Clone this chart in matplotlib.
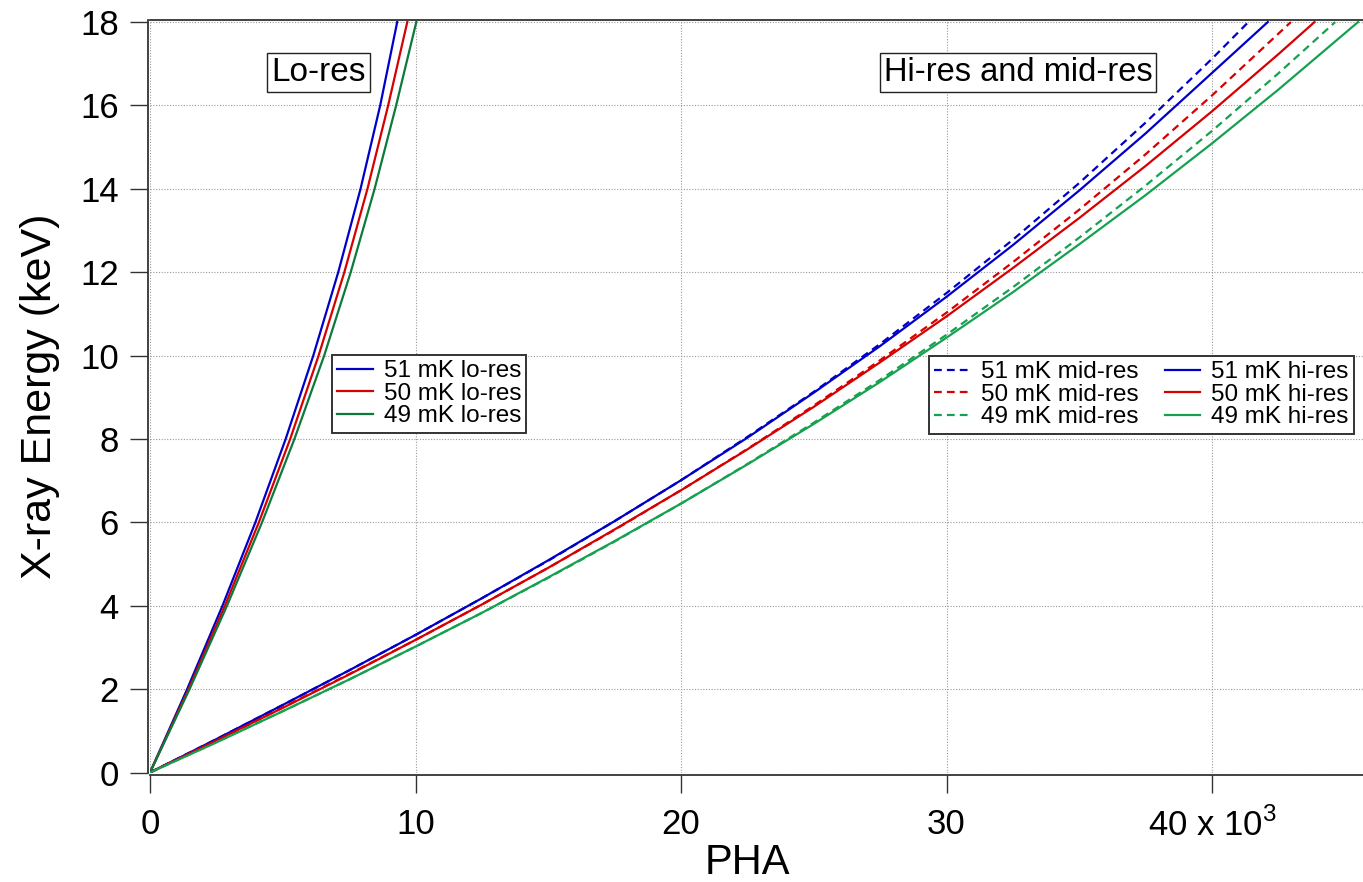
import matplotlib
matplotlib.use("Agg")
import matplotlib.pyplot as plt

plt.rcParams['font.family'] = ['Liberation Sans', 'DejaVu Sans']
plt.rcParams['mathtext.fontset'] = 'custom'
plt.rcParams['mathtext.rm'] = 'Liberation Sans'

# lo-res calibration (PHA in units of 1e3, energy in keV)
lo_energy = [0, 2, 4, 6, 8, 10, 12, 14, 16, 18]
lo_pha_51 = [0, 1.40, 2.73, 3.97, 5.11, 6.15, 7.09, 7.93, 8.67, 9.31]
lo_pha_50 = [0, 1.45, 2.82, 4.10, 5.28, 6.35, 7.32, 8.19, 8.97, 9.69]
lo_pha_49 = [0, 1.49, 2.90, 4.22, 5.44, 6.56, 7.56, 8.46, 9.27, 10.03]

# hi-res and mid-res
pha = [0, 2.5, 5, 7.5, 10, 12.5, 15, 17.5, 20, 22.5, 25, 27.5, 30, 32.5, 35, 37.5, 40]
hi_pha_51 = pha + [42.1]
hi_e_51 = [0, 0.80, 1.62, 2.45, 3.30, 4.18, 5.09, 6.03, 7.01, 8.03, 9.11, 10.23,
           11.41, 12.65, 13.96, 15.33, 16.78, 18]
hi_pha_50 = pha + [42.5, 43.86]
hi_e_50 = [0, 0.77, 1.55, 2.35, 3.18, 4.03, 4.91, 5.83, 6.77, 7.75, 8.77, 9.84,
           10.94, 12.10, 13.30, 14.55, 15.86, 17.23, 18]
hi_pha_49 = pha + [42.5, 45.5]
hi_e_49 = [0, 0.72, 1.47, 2.23, 3.02, 3.83, 4.68, 5.55, 6.45, 7.39, 8.36, 9.37,
           10.43, 11.52, 12.67, 13.85, 15.09, 16.38, 18]

mid_pha_51 = pha + [41.37]
mid_e_51 = [0, 0.80, 1.62, 2.45, 3.30, 4.18, 5.08, 6.03, 7.01, 8.05, 9.13, 10.28,
            11.50, 12.78, 14.14, 15.59, 17.12, 18]
mid_pha_50 = pha + [42.97]
mid_e_50 = [0, 0.77, 1.56, 2.36, 3.18, 4.03, 4.91, 5.82, 6.77, 7.76, 8.80, 9.89,
            11.03, 12.24, 13.50, 14.83, 16.24, 18]
mid_pha_49 = pha + [42.5, 44.64]
mid_e_49 = [0, 0.73, 1.47, 2.23, 3.02, 3.83, 4.67, 5.54, 6.45, 7.40, 8.39, 9.42,
            10.50, 11.64, 12.83, 14.08, 15.39, 16.77, 18]

x_ticks = [0, 10, 20, 30, 40]
x_ticklabels = ['0', '10', '20', '30', r'40 x 10$^{\mathregular{3}}$']
y_ticks = [0, 2, 4, 6, 8, 10, 12, 14, 16, 18]

blue = '#0000c8'
red = '#d60000'
dkgreen = '#0b7a3a'
green = '#16a150'

W, H = 1363, 882
fig = plt.figure(figsize=(W / 100, H / 100), dpi=100)
x0, x1 = 150, 150 + 46.5 * 26.55
y0, y1 = 772.5, 20
ax = fig.add_axes([x0 / W, 1 - y0 / H, (x1 - x0) / W, (y0 - y1) / H])

lw = 1.6
dash = (0, (3.5, 2.3))
l1, = ax.plot(lo_pha_51, lo_energy, color=blue, lw=lw, label='51 mK lo-res')
l2, = ax.plot(lo_pha_50, lo_energy, color=red, lw=lw, label='50 mK lo-res')
l3, = ax.plot(lo_pha_49, lo_energy, color=dkgreen, lw=lw, label='49 mK lo-res')

m1, = ax.plot(mid_pha_51, mid_e_51, color=blue, lw=lw, ls=dash, label='51 mK mid-res')
m2, = ax.plot(mid_pha_50, mid_e_50, color=red, lw=lw, ls=dash, label='50 mK mid-res')
m3, = ax.plot(mid_pha_49, mid_e_49, color=green, lw=lw, ls=dash, label='49 mK mid-res')
h1, = ax.plot(hi_pha_51, hi_e_51, color=blue, lw=lw, label='51 mK hi-res')
h2, = ax.plot(hi_pha_50, hi_e_50, color=red, lw=lw, label='50 mK hi-res')
h3, = ax.plot(hi_pha_49, hi_e_49, color=green, lw=lw, label='49 mK hi-res')

ax.set_xlim(0, 46.5)
ax.set_ylim(0, 18.05)
ax.set_xticks(x_ticks)
ax.set_xticklabels(x_ticklabels)
ax.set_yticks(y_ticks)
ax.grid(True, color='#999999', ls=(0, (1, 1.5)), lw=0.8)

for s in ['left', 'bottom']:
    ax.spines[s].set_position(('outward', 1.5))
ax.spines['right'].set_visible(False)
for s in ax.spines.values():
    s.set_color('#333333')
    s.set_linewidth(1.3)

ax.tick_params(axis='both', direction='out', length=13, width=1.0, color='#333333',
               labelsize=25)
ax.tick_params(axis='x', pad=11)
ax.tick_params(axis='y', pad=8)

ax.set_xlabel('PHA', fontsize=30)
ax.xaxis.set_label_coords((747 - x0) / (x1 - x0), -(863 - y0) / (y0 - y1))
ax.xaxis.label.set_va('center')
ax.set_ylabel('X-ray Energy (keV)', fontsize=31)
ax.yaxis.set_label_coords(-(150 - 40) / (x1 - x0), 0.5)
ax.yaxis.label.set_va('center')

box = dict(boxstyle='square,pad=0.12', fc='white', ec='#222222', lw=1.0)
ax.text(6.35, 16.8, 'Lo-res', fontsize=24, ha='center', va='center', bbox=box)
ax.text(32.7, 16.8, 'Hi-res and mid-res', fontsize=23.5, ha='center', va='center', bbox=box)

leg_kw = dict(fontsize=17.5, frameon=True, fancybox=False, edgecolor='#333333',
              framealpha=1, handlelength=1.45, labelspacing=0.02, borderpad=0.22,
              handletextpad=0.45, borderaxespad=0)
lo_handles = [l1, l2, l3]
leg1 = ax.legend(lo_handles, [l.get_label() for l in lo_handles],
                 loc='upper left', bbox_to_anchor=((332 - x0) / (x1 - x0), (y0 - 355) / (y0 - y1)),
                 **leg_kw)
leg1.get_frame().set_linewidth(1.4)
ax.add_artist(leg1)
hi_handles = [m1, m2, m3, h1, h2, h3]
leg2 = ax.legend(hi_handles, [l.get_label() for l in hi_handles], ncol=2, columnspacing=1.1,
                 loc='upper left', bbox_to_anchor=((929 - x0) / (x1 - x0), (y0 - 356) / (y0 - y1)),
                 **leg_kw)
leg2.get_frame().set_linewidth(1.4)

fig.savefig('out.png', dpi=100)
